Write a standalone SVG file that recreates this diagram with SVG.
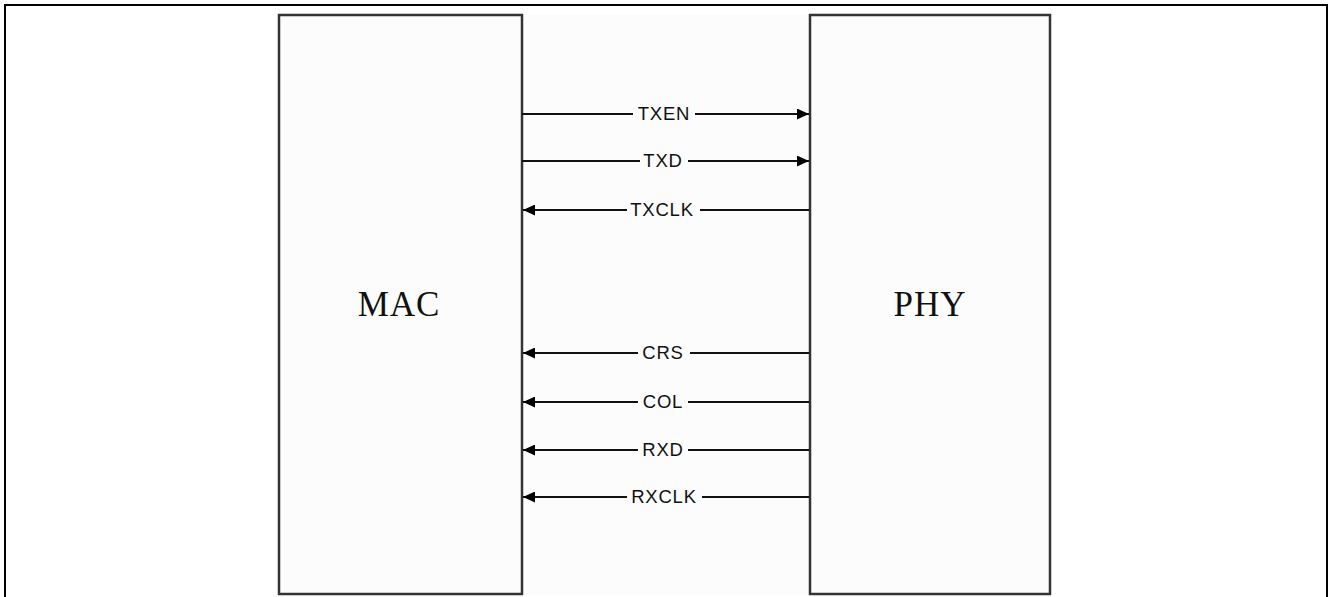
<svg xmlns="http://www.w3.org/2000/svg" width="1329" height="597" viewBox="0 0 1329 597">
<style>
.frame{fill:none;stroke:#000;stroke-width:2}
.box{fill:#fcfcfc;stroke:#333;stroke-width:2.5}
.title{font-family:"Liberation Serif",serif;font-size:35px;fill:#111;text-anchor:middle;letter-spacing:1px}
.line{stroke:#111;stroke-width:2;fill:none}
.lbl{font-family:"Liberation Sans",Arial,sans-serif;font-size:18.5px;fill:#111;text-anchor:middle;letter-spacing:0.8px}
.lblbg{fill:#fcfcfc}
</style>
<defs>
<marker id="ah" viewBox="0 0 12 11" refX="12" refY="5.5" markerWidth="12" markerHeight="11" markerUnits="userSpaceOnUse" orient="auto">
<path d="M0,0 L12,5.5 L0,11 z" fill="#000"/>
</marker>
</defs>
<rect width="1329" height="597" fill="#fff"/>
<path class="frame" d="M5,600 V5 H1327 V600"/>
<rect x="278" y="15" width="772" height="580" fill="#fcfcfc"/>
<g id="mac">
<rect class="box" x="279" y="15" width="243" height="579"/>
<text class="title" x="399" y="316">MAC</text>
</g>
<g id="phy">
<rect class="box" x="810" y="15" width="240" height="579"/>
<text class="title" x="930" y="316">PHY</text>
</g>
<g id="connectors">
<g id="txen">
<line class="line" x1="522" y1="114" x2="809" y2="114" marker-end="url(#ah)"/>
<rect class="lblbg" x="633" y="103" width="62" height="20"/>
<text class="lbl" x="664" y="120">TXEN</text>
</g>
<g id="txd">
<line class="line" x1="522" y1="161" x2="809" y2="161" marker-end="url(#ah)"/>
<rect class="lblbg" x="640" y="150" width="48" height="20"/>
<text class="lbl" x="663" y="167">TXD</text>
</g>
<g id="txclk">
<line class="line" x1="809" y1="210" x2="523" y2="210" marker-end="url(#ah)"/>
<rect class="lblbg" x="627" y="199" width="73" height="20"/>
<text class="lbl" x="662" y="216">TXCLK</text>
</g>
<g id="crs">
<line class="line" x1="809" y1="353" x2="523" y2="353" marker-end="url(#ah)"/>
<rect class="lblbg" x="638" y="342" width="52" height="20"/>
<text class="lbl" x="663" y="359">CRS</text>
</g>
<g id="col">
<line class="line" x1="809" y1="402" x2="523" y2="402" marker-end="url(#ah)"/>
<rect class="lblbg" x="638" y="391" width="50" height="20"/>
<text class="lbl" x="663" y="408">COL</text>
</g>
<g id="rxd">
<line class="line" x1="809" y1="450" x2="523" y2="450" marker-end="url(#ah)"/>
<rect class="lblbg" x="638" y="439" width="50" height="20"/>
<text class="lbl" x="663" y="456">RXD</text>
</g>
<g id="rxclk">
<line class="line" x1="809" y1="497" x2="523" y2="497" marker-end="url(#ah)"/>
<rect class="lblbg" x="627" y="486" width="75" height="20"/>
<text class="lbl" x="664" y="503">RXCLK</text>
</g>
</g>
</svg>
